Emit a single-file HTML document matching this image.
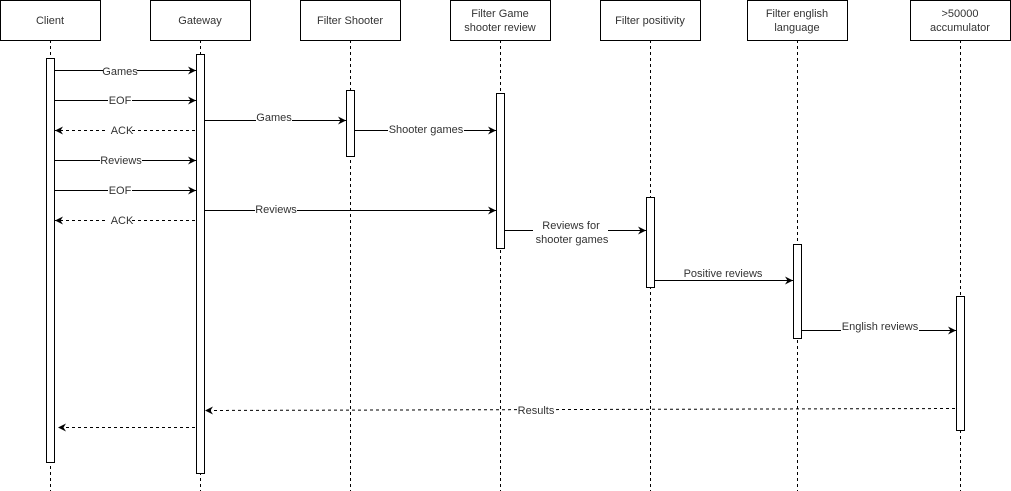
<!DOCTYPE html>
<html><head><meta charset="utf-8"><style>
html,body{margin:0;padding:0;background:#fff;}
svg{display:block;}
text{font-family:"Liberation Sans",Arial,sans-serif;font-size:11px;fill:#333;}
</style></head><body>
<svg width="1011" height="491" viewBox="0 0 1011 491" xmlns="http://www.w3.org/2000/svg">
<defs>
<marker id="a" markerWidth="10" markerHeight="10" refX="8" refY="4" orient="auto" markerUnits="userSpaceOnUse">
<path d="M0,0 L8,4 L0,8 L2.5,4 Z" fill="#000"/>
</marker>
</defs>
<g stroke="#000" stroke-width="1" fill="none" stroke-dasharray="3,3">
<line x1="50.5" y1="40" x2="50.5" y2="491"/>
<line x1="200.5" y1="40" x2="200.5" y2="491"/>
<line x1="350.5" y1="40" x2="350.5" y2="491"/>
<line x1="500.5" y1="40" x2="500.5" y2="491"/>
<line x1="650.5" y1="40" x2="650.5" y2="491"/>
<line x1="797.5" y1="40" x2="797.5" y2="491"/>
<line x1="960.5" y1="40" x2="960.5" y2="491"/>
</g>
<g stroke="#000" fill="#fff">
<rect x="0.5" y="0.5" width="100" height="40"/>
<rect x="150.5" y="0.5" width="100" height="40"/>
<rect x="300.5" y="0.5" width="100" height="40"/>
<rect x="450.5" y="0.5" width="100" height="40"/>
<rect x="600.5" y="0.5" width="100" height="40"/>
<rect x="747.5" y="0.5" width="100" height="40"/>
<rect x="910.5" y="0.5" width="100" height="40"/>
</g>
<g text-anchor="middle" style="font-size:12px">
<text x="50" y="24">Client</text>
<text x="200" y="24">Gateway</text>
<text x="350" y="24">Filter Shooter</text>
<text x="500" y="17">Filter Game</text><text x="500" y="31">shooter review</text>
<text x="650" y="24">Filter positivity</text>
<text x="797" y="17">Filter english</text><text x="797" y="31">language</text>
<text x="960" y="17">&gt;50000</text><text x="960" y="31">accumulator</text>
</g>
<g stroke="#000" fill="#fff">
<rect x="46.5" y="58.5" width="8" height="404"/>
<rect x="196.5" y="54.5" width="8" height="419"/>
<rect x="346.5" y="90.5" width="8" height="66"/>
<rect x="496.5" y="93.5" width="8" height="155"/>
<rect x="646.5" y="197.5" width="8" height="90"/>
<rect x="793.5" y="244.5" width="8" height="94"/>
<rect x="956.5" y="296.5" width="8" height="134"/>
</g>
<g stroke="#000" stroke-width="1" fill="none" marker-end="url(#a)">
<line x1="55" y1="70.5" x2="196" y2="70.5"/>
<line x1="55" y1="100.5" x2="196" y2="100.5"/>
<line x1="55" y1="160.5" x2="196" y2="160.5"/>
<line x1="55" y1="190.5" x2="196" y2="190.5"/>
<line x1="205" y1="120.5" x2="346" y2="120.5"/>
<line x1="355" y1="130.5" x2="496" y2="130.5"/>
<line x1="205" y1="210.5" x2="496" y2="210.5"/>
<path d="M505,230.5 H533 M608,230.5 H646"/>
<line x1="655" y1="280.5" x2="793" y2="280.5"/>
<line x1="802" y1="330.5" x2="956" y2="330.5"/>
</g>
<g stroke="#000" stroke-width="1" fill="none" stroke-dasharray="3,3" marker-end="url(#a)">
<line x1="195" y1="130.5" x2="55" y2="130.5"/>
<line x1="195" y1="220.5" x2="55" y2="220.5"/>
<line x1="955" y1="408.5" x2="205" y2="410.5"/>
<line x1="195" y1="427.5" x2="58" y2="427.5"/>
</g>
<g text-anchor="middle">
<rect x="103" y="64" width="34" height="13" fill="#fff"/><text x="120" y="75">Games</text>
<rect x="108" y="94" width="24" height="13" fill="#fff"/><text x="120" y="104">EOF</text>
<rect x="108" y="124" width="24" height="13" fill="#fff"/><text x="122" y="134">ACK</text>
<rect x="100" y="154" width="42" height="13" fill="#fff"/><text x="121" y="164">Reviews</text>
<rect x="108" y="184" width="24" height="13" fill="#fff"/><text x="120" y="194">EOF</text>
<rect x="108" y="214" width="24" height="13" fill="#fff"/><text x="122" y="224">ACK</text>
<rect x="256" y="111" width="36" height="12" fill="#fff"/><text x="274" y="121">Games</text>
<rect x="388" y="124" width="76" height="12" fill="#fff"/><text x="426" y="133">Shooter games</text>
<rect x="255" y="203" width="42" height="12" fill="#fff"/><text x="276" y="213">Reviews</text>
<text x="571" y="229">Reviews for</text><text x="572" y="243">shooter games</text>
<text x="723" y="277">Positive reviews</text>
<rect x="841" y="321" width="78" height="12" fill="#fff"/><text x="880" y="330">English reviews</text>
<rect x="517" y="403" width="38" height="12" fill="#fff"/><text x="536" y="414">Results</text>
</g>
</svg>
</body></html>
